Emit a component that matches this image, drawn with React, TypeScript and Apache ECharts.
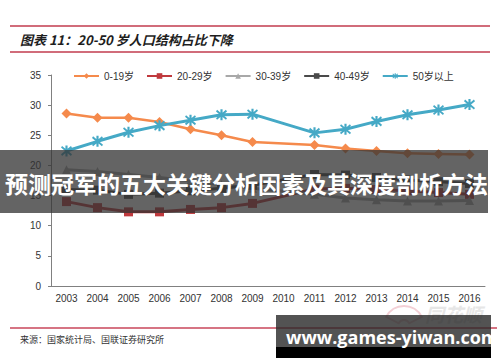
import React, { useEffect, useRef } from "react";
import * as echarts from "echarts";

const years = ["2003","2004","2005","2006","2007","2008","2009","2010","2011","2012","2013","2014","2015","2016"];
const age0to19 = [28.6, 27.9, 27.9, 27.2, 26.0, 25.0, 23.9, null, 23.4, 22.8, 22.4, 22.0, 21.9, 21.8];
const age20to29 = [14.0, 13.0, 12.3, 12.3, 12.7, 13.0, 13.7, null, 16.1, 16.2, 16.0, 15.8, 15.5, 15.2];
const age30to39 = [19.3, 19.0, 18.5, 18.0, 17.4, 16.8, 16.2, null, 15.2, 14.6, 14.3, 14.1, 14.1, 14.2];
const age40to49 = [16.0, 15.9, 15.2, 15.4, 15.8, 16.2, 16.7, null, 18.5, 18.4, 18.0, 17.6, 17.3, 17.0];
const age50plus = [22.4, 24.0, 25.5, 26.6, 27.5, 28.4, 28.5, null, 25.4, 26.0, 27.3, 28.4, 29.2, 30.1];
const seriesNames = ["0-19岁", "20-29岁", "30-39岁", "40-49岁", "50岁以上"];

const titleText = "图表 11：20-50 岁人口结构占比下降";
const sourceText = "来源：国家统计局、国联证券研究所";
const bannerText = "预测冠军的五大关键分析因素及其深度剖析方法";
const siteText = "www.games-yiwan.com";

const asterisk =
  "path://M-0.9,-5 L0.9,-5 L0.9,5 L-0.9,5 Z M-4.6,-3.1 L-3.7,-4.6 L4.6,3.1 L3.7,4.6 Z M3.7,-4.6 L4.6,-3.1 L-3.7,4.6 L-4.6,3.1 Z";

const FONT = 'Arial, "Liberation Sans", "Noto Sans CJK SC", sans-serif';

export default function App() {
  const ref = useRef<HTMLDivElement>(null);
  useEffect(() => {
    if (!ref.current) return;
    const chart = echarts.init(ref.current, null, { renderer: "svg" });
    const mk = (name: string, data: any[], color: string, symbol: string, size: number, width = 2.5) => ({
      name,
      type: "line",
      data,
      connectNulls: true,
      symbol,
      symbolSize: size,
      showSymbol: true,
      lineStyle: { color, width },
      itemStyle: { color },
    });
    chart.setOption({
      animation: false,
      backgroundColor: "#ffffff",
      legend: {
        left: 68,
        top: 66,
        itemWidth: 25,
        itemHeight: 7,
        itemGap: 12,
        textStyle: { fontSize: 10, color: "#333", fontFamily: FONT },
        data: seriesNames,
      },
      grid: { left: 51, right: 15, top: 75, bottom: 76 },
      xAxis: {
        type: "category",
        data: years,
        boundaryGap: true,
        axisLine: { lineStyle: { color: "#808080", width: 1 } },
        axisTick: { inside: true, length: 3, lineStyle: { color: "#808080" } },
        axisLabel: { fontSize: 10, color: "#333", fontFamily: FONT, margin: 7, interval: 0 },
      },
      yAxis: {
        type: "value",
        min: 0,
        max: 35,
        interval: 5,
        splitLine: { show: false },
        axisLine: { show: true, lineStyle: { color: "#808080", width: 1 } },
        axisTick: { show: true, length: 3, lineStyle: { color: "#808080" } },
        axisLabel: { fontSize: 10, color: "#333", fontFamily: FONT, margin: 10 },
      },
      series: [
        mk(seriesNames[0], age0to19, "#F58A4C", "diamond", 10),
        mk(seriesNames[1], age20to29, "#C0393D", "rect", 9, 3),
        mk(seriesNames[2], age30to39, "#A8A8A8", "triangle", 9, 3),
        mk(seriesNames[3], age40to49, "#4A4A4A", "rect", 9, 3),
        mk(seriesNames[4], age50plus, "#45A9C6", asterisk, 11, 3),
      ],
      graphic: [
        { type: "line", shape: { x1: 10, y1: 26, x2: 490, y2: 26 }, style: { stroke: "#C23B4E", lineWidth: 1.5 } },
        { type: "line", shape: { x1: 10, y1: 52, x2: 490, y2: 52 }, style: { stroke: "#C23B4E", lineWidth: 1.5 } },
        {
          type: "text",
          x: 20,
          y: 39,
          style: {
            text: titleText,
            fill: "#1e1e1e",
            fontSize: 13,
            fontWeight: "bold",
            fontStyle: "italic",
            fontFamily: '"Noto Sans CJK SC", sans-serif',
            verticalAlign: "middle",
          },
        },
        { type: "line", shape: { x1: 10, y1: 328, x2: 497, y2: 328 }, style: { stroke: "#C8465A", lineWidth: 1.5 } },
        {
          type: "text",
          x: 20,
          y: 339,
          style: {
            text: sourceText,
            fill: "#333",
            fontSize: 9,
            fontFamily: '"Noto Sans CJK SC", sans-serif',
            verticalAlign: "middle",
          },
        },
        {
          type: "text",
          x: 425,
          y: 313,
          z: 5,
          style: {
            text: "同花顺",
            fill: "#e6e6e6",
            fontSize: 19,
            fontWeight: "bold",
            fontStyle: "italic",
            fontFamily: '"Noto Sans CJK SC", sans-serif',
            verticalAlign: "middle",
          },
        },
        {
          type: "sector",
          z: 5,
          shape: { cx: 404, cy: 326, r: 20, r0: 6, startAngle: Math.PI * 1.15, endAngle: Math.PI * 1.85 },
          style: { fill: "none", stroke: "#f3cfd5", lineWidth: 2 },
        },
        {
          type: "rect",
          z: 100,
          shape: { x: 0, y: 150, width: 488, height: 63 },
          style: { fill: "rgba(51,51,51,0.76)" },
        },
        {
          type: "text",
          z: 101,
          x: 5,
          y: 183,
          style: {
            text: bannerText,
            fill: "#ffffff",
            fontSize: 23,
            fontWeight: "bold",
            fontFamily: '"Noto Sans CJK SC", sans-serif',
            verticalAlign: "middle",
          },
        },
        {
          type: "rect",
          z: 100,
          shape: { x: 276, y: 315, width: 215, height: 32 },
          style: { fill: "rgba(40,40,40,0.8)" },
        },
        {
          type: "rect",
          z: 100,
          shape: { x: 276, y: 347, width: 215, height: 11 },
          style: { fill: "#000000" },
        },
        {
          type: "text",
          z: 101,
          x: 286,
          y: 337,
          style: {
            text: siteText,
            fill: "#ffffff",
            fontSize: 18,
            fontWeight: "bold",
            fontFamily: '"Open Sans", "Noto Sans", sans-serif',
            verticalAlign: "middle",
          },
        },
      ],
    });
    return () => chart.dispose();
  }, []);
  return (
    <div
      ref={ref}
      style={{ position: "fixed", left: 0, top: 0, width: 500, height: 362, background: "#fff" }}
    />
  );
}
